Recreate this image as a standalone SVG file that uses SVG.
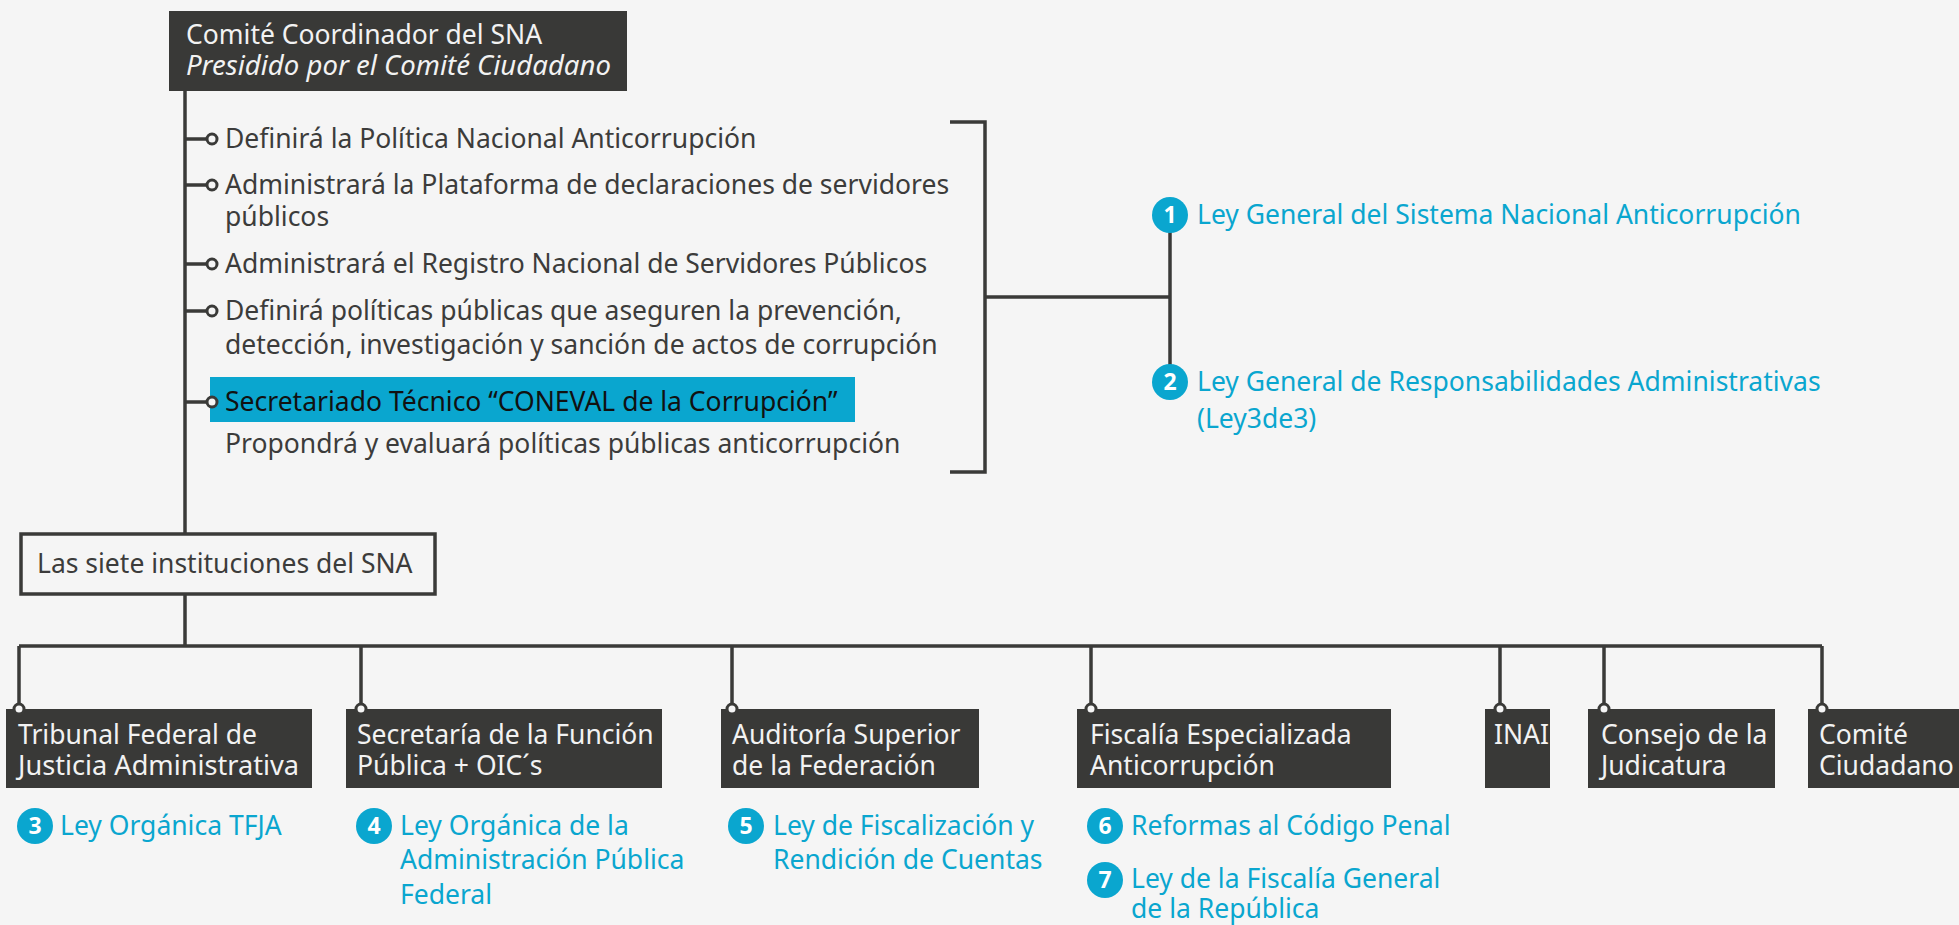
<svg xmlns="http://www.w3.org/2000/svg" width="1959" height="925" viewBox="0 0 1959 925">
<style>
text{font-family:"Noto Sans","Open Sans","DejaVu Sans",sans-serif;font-size:26.5px}
.w{fill:#f2f2f2}
.b{fill:#3c3c3b}
.k{fill:#111}
.c{fill:#0aa6cf}
.num{fill:#fff;font-weight:bold;font-size:23px;text-anchor:middle}
.box{fill:#393937}
.ln{stroke:#3a3a38;stroke-width:3.5;fill:none}
.dot{fill:#f5f5f5;stroke:#3a3a38;stroke-width:3}
</style>
<rect width="1959" height="925" fill="#f5f5f5"/>
<g id="connectors">
<path class="ln" d="M185,90 V534"/>
<path class="ln" d="M185,139 H207 M185,185 H207 M185,264 H207 M185,311 H207 M185,402 H207"/>
<path class="ln" d="M950,122 H985 V472 H950"/>
<path class="ln" d="M985,297 H1170 M1170,215 V382"/>
<path class="ln" d="M185,594 V646 M19,646 H1822"/>
<path class="ln" d="M19,646 V709 M361,646 V709 M732,646 V709 M1091,646 V709 M1500,646 V709 M1604,646 V709 M1822,646 V709"/>
</g>
<g id="comite-coordinador">
<rect class="box" x="169" y="11" width="458" height="80"/>
<text class="w" x="186" y="44" font-size="24.5">Comité Coordinador del SNA</text>
<text class="w" x="186" y="75" font-style="italic" textLength="425" lengthAdjust="spacingAndGlyphs">Presidido por el Comité Ciudadano</text>
</g>
<g id="funciones">
<circle class="dot" cx="212" cy="139" r="5"/>
<circle class="dot" cx="212" cy="185" r="5"/>
<circle class="dot" cx="212" cy="264" r="5"/>
<circle class="dot" cx="212" cy="311" r="5"/>
<text class="b" x="225" y="148">Definirá la Política Nacional Anticorrupción</text>
<text class="b" x="225" y="194">Administrará la Plataforma de declaraciones de servidores</text>
<text class="b" x="225" y="226">públicos</text>
<text class="b" x="225" y="273">Administrará el Registro Nacional de Servidores Públicos</text>
<text class="b" x="225" y="320">Definirá políticas públicas que aseguren la prevención,</text>
<text class="b" x="225" y="354">detección, investigación y sanción de actos de corrupción</text>
</g>
<g id="secretariado">
<rect x="210" y="377" width="645" height="45" fill="#0aa6cf"/>
<circle class="dot" cx="212" cy="402" r="5"/>
<text class="k" x="225" y="411">Secretariado Técnico “CONEVAL de la Corrupción”</text>
<text class="b" x="225" y="453">Propondrá y evaluará políticas públicas anticorrupción</text>
</g>
<g id="ley1">
<circle cx="1170" cy="215" r="18" fill="#0aa6cf"/>
<text class="num" x="1170" y="223">1</text>
<text class="c" x="1197" y="224">Ley General del Sistema Nacional Anticorrupción</text>
</g>
<g id="ley2">
<circle cx="1170" cy="382" r="18" fill="#0aa6cf"/>
<text class="num" x="1170" y="390">2</text>
<text class="c" x="1197" y="391">Ley General de Responsabilidades Administrativas</text>
<text class="c" x="1197" y="428">(Ley3de3)</text>
</g>
<g id="siete">
<rect x="21" y="534" width="414" height="60" fill="#f5f5f5" stroke="#3a3a38" stroke-width="3.5"/>
<text class="b" x="37" y="573">Las siete instituciones del SNA</text>
</g>
<g id="tfja">
<rect class="box" x="6" y="709" width="306" height="79"/>
<circle class="dot" cx="19" cy="709" r="5"/>
<text class="w" x="18" y="744">Tribunal Federal de</text>
<text class="w" x="18" y="775" textLength="281" lengthAdjust="spacingAndGlyphs">Justicia Administrativa</text>
</g>
<g id="sfp">
<rect class="box" x="346" y="709" width="316" height="79"/>
<circle class="dot" cx="361" cy="709" r="5"/>
<text class="w" x="357" y="744">Secretaría de la Función</text>
<text class="w" x="357" y="775">Pública + OIC´s</text>
</g>
<g id="asf">
<rect class="box" x="721" y="709" width="258" height="79"/>
<circle class="dot" cx="732" cy="709" r="5"/>
<text class="w" x="732" y="744">Auditoría Superior</text>
<text class="w" x="732" y="775">de la Federación</text>
</g>
<g id="fiscalia">
<rect class="box" x="1077" y="709" width="314" height="79"/>
<circle class="dot" cx="1091" cy="709" r="5"/>
<text class="w" x="1090" y="744">Fiscalía Especializada</text>
<text class="w" x="1090" y="775">Anticorrupción</text>
</g>
<g id="inai">
<rect class="box" x="1485" y="709" width="65" height="79"/>
<circle class="dot" cx="1500" cy="709" r="5"/>
<text class="w" x="1494" y="744">INAI</text>
</g>
<g id="judicatura">
<rect class="box" x="1588" y="709" width="187" height="79"/>
<circle class="dot" cx="1604" cy="709" r="5"/>
<text class="w" x="1601" y="744">Consejo de la</text>
<text class="w" x="1601" y="775">Judicatura</text>
</g>
<g id="ciudadano">
<rect class="box" x="1808" y="709" width="151" height="79"/>
<circle class="dot" cx="1822" cy="709" r="5"/>
<text class="w" x="1819" y="744">Comité</text>
<text class="w" x="1819" y="775">Ciudadano</text>
</g>
<g id="ley3">
<circle cx="35" cy="826" r="18" fill="#0aa6cf"/>
<text class="num" x="35" y="834">3</text>
<text class="c" x="60" y="835">Ley Orgánica TFJA</text>
</g>
<g id="ley4">
<circle cx="374" cy="826" r="18" fill="#0aa6cf"/>
<text class="num" x="374" y="834">4</text>
<text class="c" x="400" y="835">Ley Orgánica de la</text>
<text class="c" x="400" y="869">Administración Pública</text>
<text class="c" x="400" y="904">Federal</text>
</g>
<g id="ley5">
<circle cx="746" cy="826" r="18" fill="#0aa6cf"/>
<text class="num" x="746" y="834">5</text>
<text class="c" x="773" y="835">Ley de Fiscalización y</text>
<text class="c" x="773" y="869">Rendición de Cuentas</text>
</g>
<g id="ley6">
<circle cx="1105" cy="826" r="18" fill="#0aa6cf"/>
<text class="num" x="1105" y="834">6</text>
<text class="c" x="1131" y="835">Reformas al Código Penal</text>
</g>
<g id="ley7">
<circle cx="1105" cy="880" r="18" fill="#0aa6cf"/>
<text class="num" x="1105" y="888">7</text>
<text class="c" x="1131" y="888">Ley de la Fiscalía General</text>
<text class="c" x="1131" y="918">de la República</text>
</g>
</svg>
